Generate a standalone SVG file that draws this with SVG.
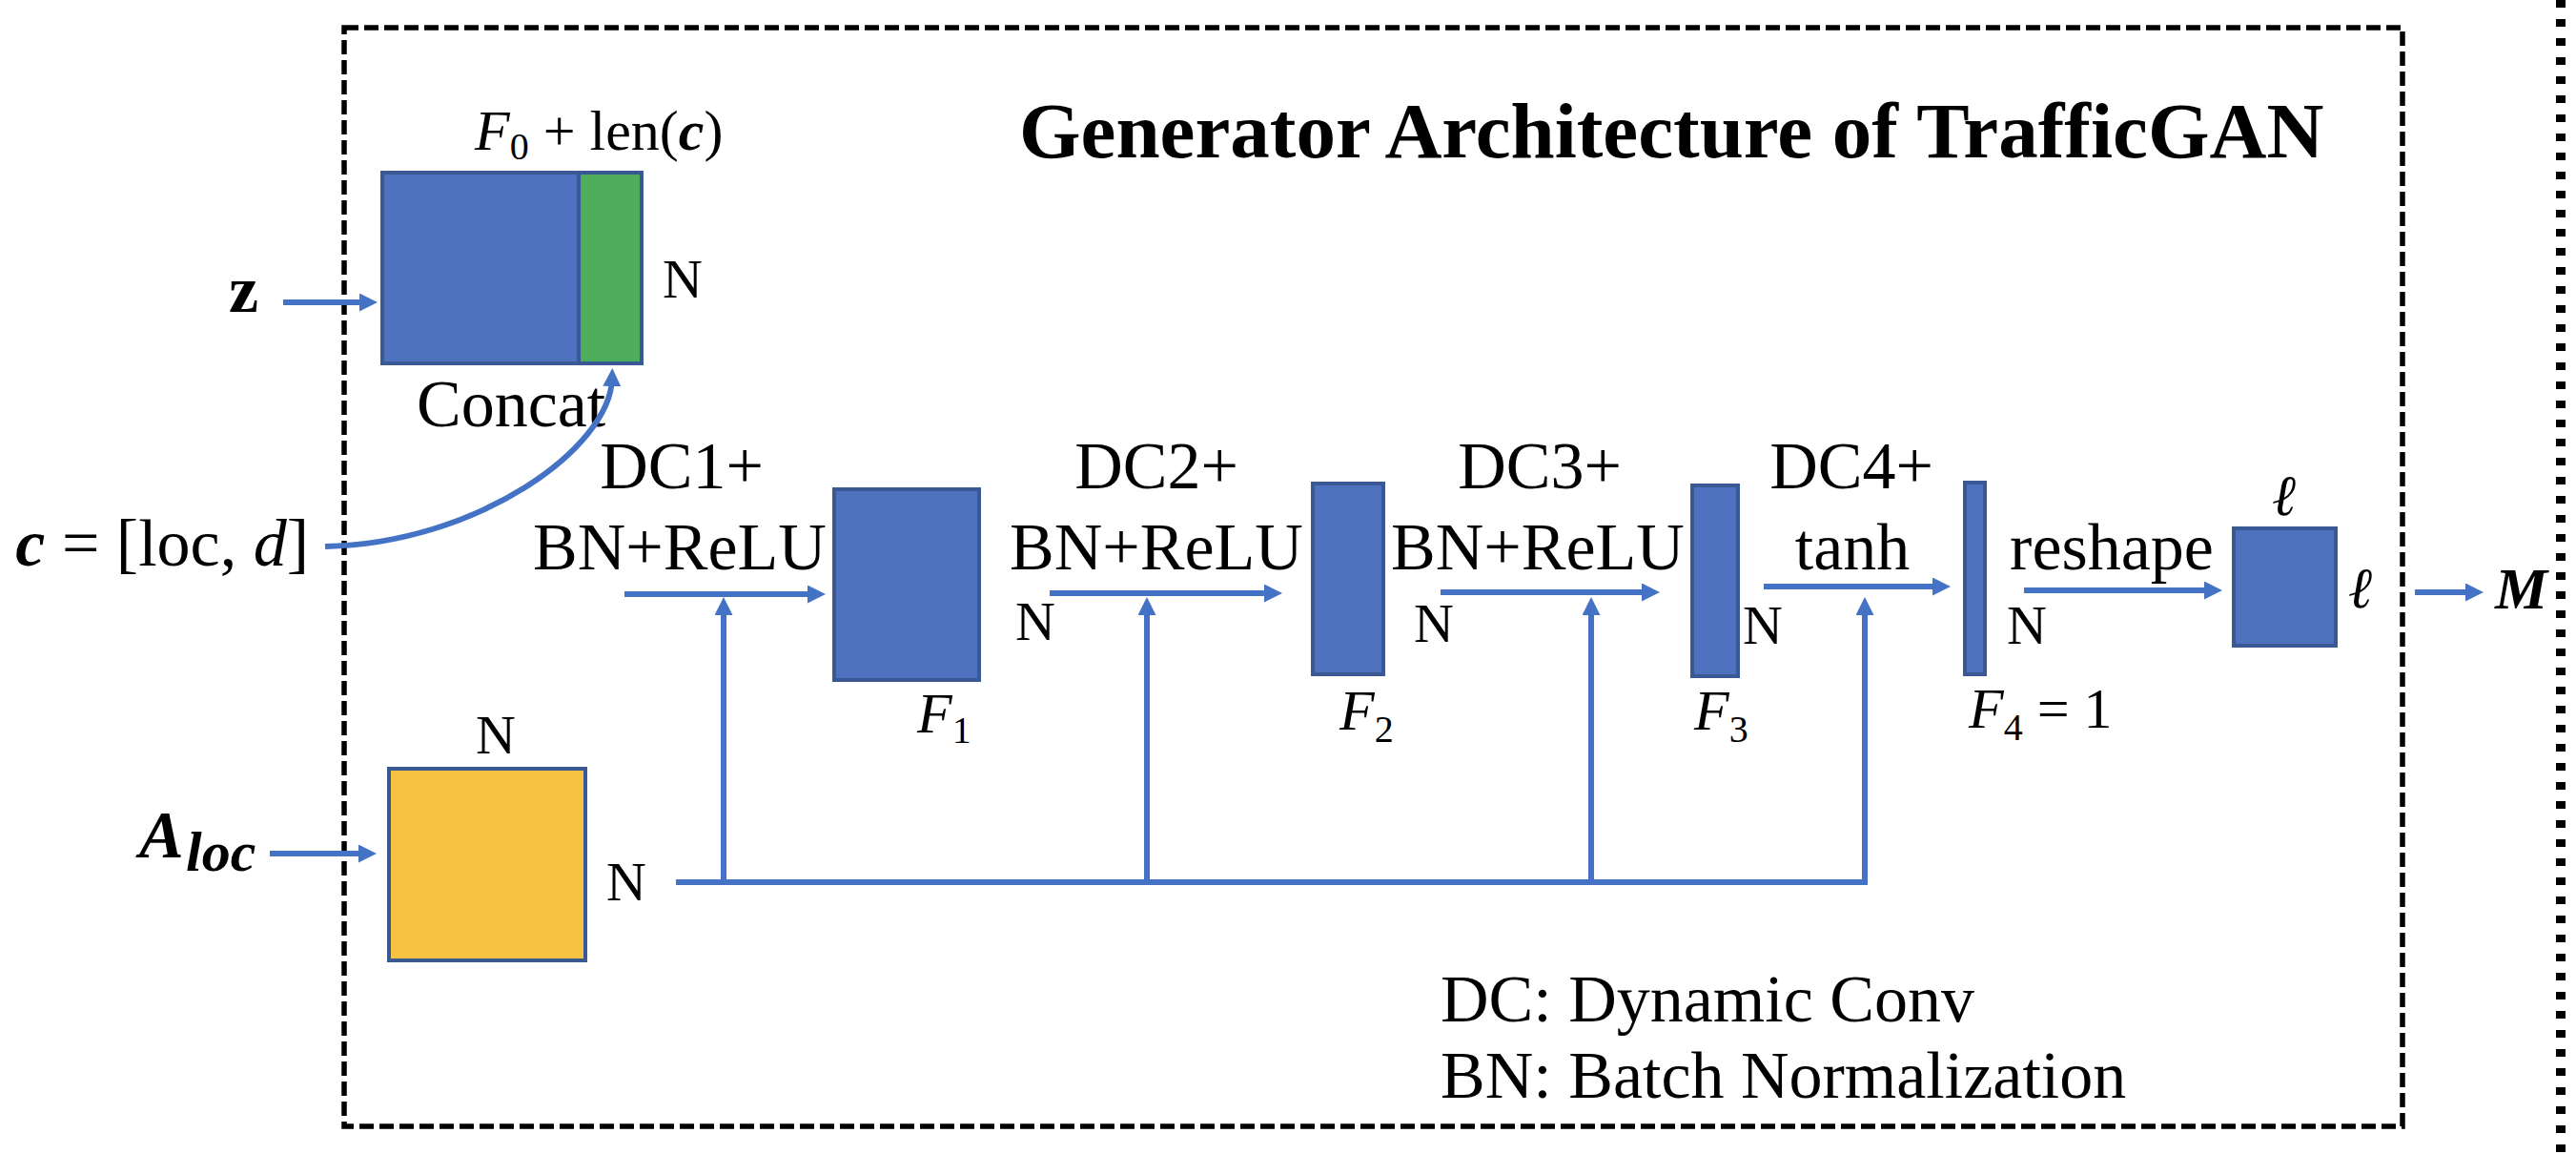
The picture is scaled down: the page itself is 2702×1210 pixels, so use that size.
<svg xmlns="http://www.w3.org/2000/svg" width="2702" height="1210" viewBox="0 0 2702 1210">
<style>
text{font-family:"Liberation Serif","Times New Roman",serif;fill:#000}
.t{font-size:70px}
.n{font-size:58px}
.m{font-size:60px}
.c{text-anchor:middle}
.it{font-style:italic}
.bi{font-style:italic;font-weight:bold}
.blk{fill:#4E72BE;stroke:#3A5893;stroke-width:4}
.ln{fill:none;stroke:#4472C4;stroke-width:6}
.ar{fill:none;stroke:#4472C4;stroke-width:6;marker-end:url(#ah)}
</style>
<defs>
<marker id="ah" markerUnits="userSpaceOnUse" markerWidth="19" markerHeight="19" refX="8" refY="9.5" orient="auto">
<path d="M0,0 L19,9.5 L0,19 z" fill="#4472C4"/>
</marker>
</defs>
<rect width="2702" height="1210" fill="#fff"/>
<g id="frame">
<rect x="361" y="29" width="2159" height="1152" fill="none" stroke="#000" stroke-width="5.5" stroke-dasharray="15 6"/>
<line x1="2686" y1="0" x2="2686" y2="1210" stroke="#000" stroke-width="10" stroke-dasharray="8 12"/>
</g>
<g id="title"><text x="1069" y="165" font-size="83" font-weight="bold">Generator Architecture of TrafficGAN</text></g>
<g id="concat">
<rect class="blk" x="401" y="181" width="206" height="200"/>
<rect x="607" y="181" width="66" height="200" fill="#4EAD5B" stroke="#3A5893" stroke-width="4"/>
<text class="m" x="498" y="157"><tspan class="it">F</tspan><tspan font-size="40" dy="10">0</tspan><tspan dy="-10"> + len(</tspan><tspan class="bi">c</tspan>)</text>
<text class="n" x="695" y="312">N</text>
<text class="t" x="437" y="447">Concat</text>
</g>
<g id="input-z"><text class="t" x="240" y="327" font-weight="bold">z</text></g>
<g id="input-c"><text class="t" x="324" y="593" text-anchor="end"><tspan class="bi">c</tspan> = [loc, <tspan class="it">d</tspan>]</text></g>
<g id="input-a"><text x="146" y="899" font-size="70" class="bi">A<tspan x="195" font-size="60" dy="14">loc</tspan></text></g>
<g id="adj">
<rect x="408" y="806" width="206" height="201" fill="#F5C242" stroke="#3A5893" stroke-width="4"/>
<text class="n" x="499" y="790">N</text>
<text class="n" x="636" y="944">N</text>
</g>
<g id="f1">
<rect class="blk" x="875" y="513" width="152" height="200"/>
<text class="m" x="962" y="768"><tspan class="it">F</tspan><tspan font-size="40" dy="11">1</tspan></text>
<text class="n" x="1065" y="671">N</text>
</g>
<g id="f2">
<rect class="blk" x="1377" y="507" width="74" height="200"/>
<text class="m" x="1405" y="765"><tspan class="it">F</tspan><tspan font-size="40" dy="13">2</tspan></text>
<text class="n" x="1483" y="673">N</text>
</g>
<g id="f3">
<rect class="blk" x="1775" y="509" width="48" height="200"/>
<text class="m" x="1777" y="765"><tspan class="it">F</tspan><tspan font-size="40" dy="13">3</tspan></text>
<text class="n" x="1828" y="675">N</text>
</g>
<g id="f4">
<rect class="blk" x="2061" y="506" width="21" height="201"/>
<text class="m" x="2065" y="763"><tspan class="it">F</tspan><tspan font-size="40" dy="13">4</tspan><tspan dy="-13"> = 1</tspan></text>
<text class="n" x="2105" y="675">N</text>
</g>
<g id="out">
<rect class="blk" x="2343" y="554" width="107" height="123"/>
<text class="m it" x="2383" y="540">ℓ</text>
<text class="m it" x="2463" y="637">ℓ</text>
<text x="2617" y="638" font-size="62" class="bi">M</text>
</g>
<g id="labels">
<text class="t c" x="715" y="512">DC1+</text>
<text class="t c" x="713" y="597">BN+ReLU</text>
<text class="t c" x="1213" y="512">DC2+</text>
<text class="t c" x="1213" y="597">BN+ReLU</text>
<text class="t c" x="1615" y="512">DC3+</text>
<text class="t c" x="1613" y="597">BN+ReLU</text>
<text class="t c" x="1942" y="512">DC4+</text>
<text class="t c" x="1943" y="597">tanh</text>
<text class="t c" x="2215" y="597">reshape</text>
</g>
<g id="legend">
<text class="t" x="1511" y="1071">DC: Dynamic Conv</text>
<text class="t" x="1511" y="1151">BN: Batch Normalization</text>
</g>
<g id="connectors">
<line class="ar" x1="297" y1="317" x2="385" y2="317"/>
<line class="ar" x1="283" y1="895" x2="384" y2="895"/>
<path class="ar" d="M341,573 C500,570 640,470 642,397"/>
<line class="ar" x1="655" y1="623" x2="855" y2="623"/>
<line class="ar" x1="1101" y1="622" x2="1334" y2="622"/>
<line class="ar" x1="1511" y1="621" x2="1730" y2="621"/>
<line class="ar" x1="1850" y1="615" x2="2035" y2="615"/>
<line class="ar" x1="2123" y1="619" x2="2320" y2="619"/>
<line class="ar" x1="2533" y1="621" x2="2594" y2="621"/>
<polyline class="ln" points="709,925 1956,925"/>
<line class="ar" x1="759" y1="928" x2="759" y2="637"/>
<line class="ar" x1="1203" y1="928" x2="1203" y2="637"/>
<line class="ar" x1="1669" y1="928" x2="1669" y2="637"/>
<line class="ar" x1="1956" y1="928" x2="1956" y2="637"/>
</g>
</svg>
